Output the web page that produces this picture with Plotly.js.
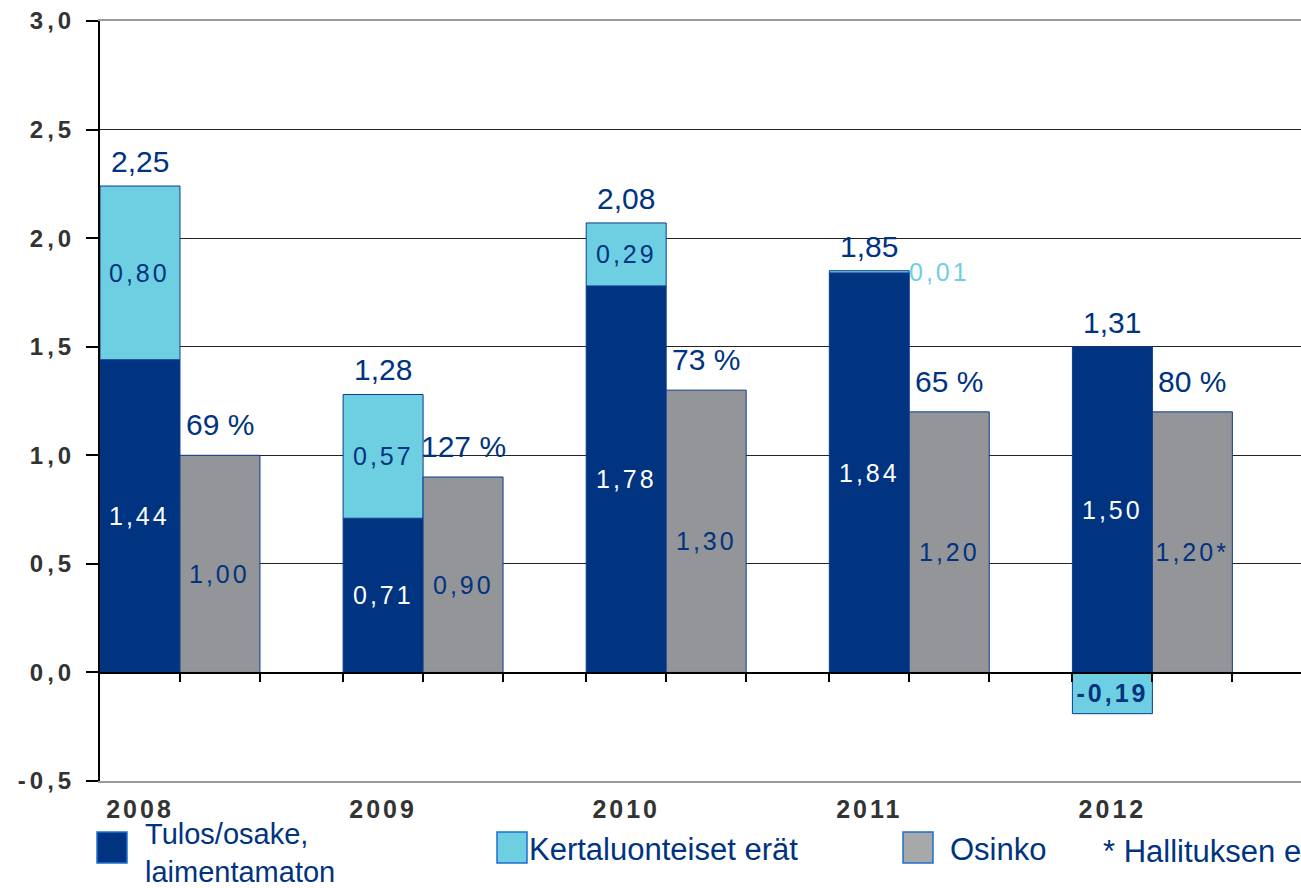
<!DOCTYPE html>
<html>
<head>
<meta charset="utf-8">
<script src="https://cdn.plot.ly/plotly-3.0.1.min.js"></script>
<style>
html, body { margin: 0; padding: 0; background: #fff; }
#chart { width: 1301px; height: 888px; }
</style>
</head>
<body>
<div id="chart"></div>
<script>
// ---- data ----
const years = ['2008', '2009', '2010', '2011', '2012'];
const epsBasic = [1.44, 0.71, 1.78, 1.84, 1.50];      // Tulos/osake, laimentamaton
const oneOffItems = [0.80, 0.57, 0.29, 0.01, -0.19];  // Kertaluonteiset erät
const dividend = [1.00, 0.90, 1.30, 1.20, 1.20];      // Osinko
const totalEps = [2.25, 1.28, 2.08, 1.85, 1.31];
const payoutPct = [69, 127, 73, 65, 80];
const dividendNote = ['', '', '', '', '*'];
const seriesNames = ['Tulos/osake,<br>laimentamaton', 'Kertaluonteiset erät', 'Osinko'];
const footnote = '* Hallituksen ehdotus';
const yTickVals = [-0.5, 0, 0.5, 1.0, 1.5, 2.0, 2.5, 3.0];

// ---- style ----
const DARK = '#003380', LIGHT = '#6ECFE3', GRAY = '#939598', EDGE = '#0B3C8E';
const FONT = 'Liberation Sans, Arial, sans-serif';
const BW = 0.329;
const idx = years.map((_, i) => i);
const fmt = v => v.toFixed(2).replace('.', ',');

const traces = [
  { type: 'bar', name: seriesNames[0], x: idx, y: epsBasic, width: BW,
    marker: { color: DARK, line: { color: EDGE, width: 1 } }, hoverinfo: 'skip' },
  { type: 'bar', name: seriesNames[1], x: idx, y: oneOffItems, width: BW,
    marker: { color: LIGHT, line: { color: EDGE, width: 1 } }, hoverinfo: 'skip' },
  { type: 'bar', name: seriesNames[2], x: idx.map(i => i + BW), y: dividend, width: BW,
    marker: { color: GRAY, line: { color: EDGE, width: 1 } }, hoverinfo: 'skip' },
  { type: 'scatter', x: [0], y: [null], xaxis: 'x2', yaxis: 'y', mode: 'markers',
    showlegend: false, hoverinfo: 'skip' }
];

const edgeTicks = [];
idx.forEach(i => {
  if (i > 0) edgeTicks.push(i - BW / 2);
  edgeTicks.push(i + BW / 2, i + 1.5 * BW);
});

const ann = [];
const spaced = [];
function add(a, spacing) { ann.push(a); if (spacing) spaced.push(ann.length - 1); }
const IN = 25;

idx.forEach(i => {
  const top = epsBasic[i] + Math.max(oneOffItems[i], 0);
  add({ x: i, y: top, xref: 'x', yref: 'y', text: fmt(totalEps[i]), showarrow: false,
        yanchor: 'bottom', yshift: 6, font: { family: FONT, size: 30, color: DARK } });
  add({ x: i, y: epsBasic[i] / 2, xref: 'x', yref: 'y', text: fmt(epsBasic[i]), showarrow: false,
        font: { family: FONT, size: IN, color: '#ffffff' } }, true);
  const o = oneOffItems[i];
  if (Math.abs(o) < 0.05) {
    add({ x: i + BW / 2, y: epsBasic[i] + o / 2, xref: 'x', yref: 'y', text: fmt(o), showarrow: false,
          xanchor: 'left', xshift: 4, font: { family: FONT, size: IN, color: LIGHT } }, true);
  } else if (o > 0) {
    add({ x: i, y: epsBasic[i] + o / 2, xref: 'x', yref: 'y', text: fmt(o), showarrow: false,
          font: { family: FONT, size: IN, color: DARK } }, true);
  } else {
    add({ x: i, y: o / 2, xref: 'x', yref: 'y', text: '<b>' + fmt(o) + '</b>', showarrow: false,
          font: { family: FONT, size: IN, color: DARK } }, true);
  }
  add({ x: i + BW, y: dividend[i] / 2, xref: 'x', yref: 'y', text: fmt(dividend[i]) + dividendNote[i],
        showarrow: false, yshift: -10, font: { family: FONT, size: IN, color: DARK } }, true);
  add({ x: i + BW, y: dividend[i], xref: 'x', yref: 'y', text: payoutPct[i] + ' %', showarrow: false,
        yanchor: 'bottom', yshift: 12, font: { family: FONT, size: 30, color: DARK } });
});

// legend (drawn manually for large swatches)
const px = v => (v - 100) / 1201;
const py = v => (781 - v) / 760;
const swatches = [
  { x0: 97, color: DARK, label: seriesNames[0], tx: 143, ty: 853, size: 29 },
  { x0: 497, color: LIGHT, label: seriesNames[1], tx: 527, ty: 849, size: 31 },
  { x0: 903, color: '#A7A8AA', label: seriesNames[2], tx: 948, ty: 849, size: 31 }
];
const shapes = swatches.map(s => ({
  type: 'rect', xref: 'paper', yref: 'paper',
  x0: px(s.x0), x1: px(s.x0 + 30), y0: py(863), y1: py(832),
  fillcolor: s.color, line: { color: '#1E6FD0', width: 1.5 }
}));
swatches.forEach(s => add({ xref: 'paper', yref: 'paper', x: px(s.tx), y: py(s.ty), text: s.label,
  showarrow: false, xanchor: 'left', yanchor: 'middle', align: 'left',
  font: { family: FONT, size: s.size, color: DARK } }));
add({ xref: 'paper', yref: 'paper', x: px(1101), y: py(852), text: footnote, showarrow: false,
  xanchor: 'left', yanchor: 'middle', font: { family: FONT, size: 31, color: DARK } });

const xr = [-BW / 2, (1301 - 100) / 243.1 - BW / 2];

const layout = {
  width: 1301, height: 888,
  margin: { l: 100, r: 0, t: 21, b: 107 },
  paper_bgcolor: '#ffffff', plot_bgcolor: '#ffffff',
  barmode: 'relative', showlegend: false,
  font: { family: FONT },
  xaxis: {
    type: 'linear', range: xr, tickvals: idx, ticktext: years, ticks: '',
    showgrid: false, zeroline: false, showline: true, linecolor: '#9a9a9a', linewidth: 2, mirror: true,
    tickfont: { family: FONT, size: 25, color: '#333333', weight: 'bold' }, ticklabelstandoff: 5
  },
  xaxis2: {
    overlaying: 'x', matches: 'x', anchor: 'free', position: 0.5 / 3.5,
    range: xr, tickvals: edgeTicks, ticks: 'outside', ticklen: 8, tickwidth: 2, tickcolor: '#000',
    showticklabels: false, showgrid: false, zeroline: false, showline: true, linecolor: '#000', linewidth: 1.5
  },
  yaxis: {
    range: [-0.5, 3.0], tickvals: yTickVals, ticktext: yTickVals.map(v => v.toFixed(1).replace('.', ',')),
    ticks: 'outside', ticklen: 12, tickwidth: 2, tickcolor: '#000',
    showline: true, linecolor: '#000', linewidth: 2,
    showgrid: true, gridcolor: '#222222', gridwidth: 1, zeroline: false,
    tickfont: { family: FONT, size: 24, color: '#333333', weight: 'bold' }, ticklabelstandoff: 6
  },
  shapes: shapes,
  annotations: ann
};

Plotly.newPlot('chart', traces, layout, { staticPlot: true, displayModeBar: false }).then(gd => {
  gd.querySelectorAll('.ytick text').forEach(t => t.style.letterSpacing = '4px');
  gd.querySelectorAll('.xtick text').forEach(t => t.style.letterSpacing = '3px');
  spaced.forEach(k => {
    const g = gd.querySelector('.annotation[data-index="' + k + '"] text');
    if (g) g.style.letterSpacing = '3px';
  });
});
</script>
</body>
</html>
